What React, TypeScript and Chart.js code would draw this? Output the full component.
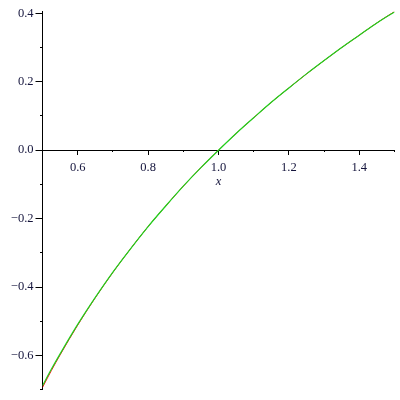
import React, { useEffect, useRef } from "react";
import { Chart, registerables } from "chart.js";

Chart.register(...registerables);

const xs = [0.5, 0.525, 0.55, 0.6, 0.65, 0.7, 0.75, 0.8, 0.85, 0.9, 0.95, 1.0, 1.05, 1.1, 1.15, 1.2, 1.25, 1.3, 1.35, 1.4, 1.45, 1.5];
const redY = [-0.693, -0.644, -0.598, -0.511, -0.431, -0.357, -0.288, -0.223, -0.163, -0.105, -0.051, 0.0, 0.049, 0.095, 0.140, 0.182, 0.223, 0.262, 0.300, 0.336, 0.372, 0.405];
const greenY = [-0.688, -0.640, -0.595, -0.509, -0.430, -0.356, -0.288, -0.223, -0.163, -0.105, -0.051, 0.0, 0.049, 0.095, 0.140, 0.182, 0.223, 0.262, 0.300, 0.336, 0.372, 0.404];

const xMajor = [0.6, 0.8, 1.0, 1.2, 1.4];
const xMajorLabels = ["0.6", "0.8", "1.0", "1.2", "1.4"];
const xMinor = [0.7, 0.9, 1.1, 1.3, 1.5];
const yMajor = [0.4, 0.2, 0.0, -0.2, -0.4, -0.6];
const yMajorLabels = ["0.4", "0.2", "0.0", "\u22120.2", "\u22120.4", "\u22120.6"];
const yMinor = [0.3, 0.1, -0.1, -0.3, -0.5, -0.7];

const X_MIN = 0.5, X_MAX = 1.5, Y_MIN = -0.7, Y_MAX = 0.405;

export default function App() {
  const ref = useRef<HTMLCanvasElement>(null);
  useEffect(() => {
    const font = { family: "'Liberation Serif', 'DejaVu Serif', serif", size: 12.5 };
    const labelColor = "#14143c";
    const axisGrid = (len: number) => ({ drawOnChartArea: false, drawTicks: true, tickLength: len, color: "#000" });
    const chart = new Chart(ref.current!, {
      type: "line",
      data: {
        datasets: [
          {
            data: xs.map((x, i) => ({ x, y: greenY[i] })),
            borderColor: "#1ed21e",
            borderWidth: 1.2,
            pointRadius: 0,
            cubicInterpolationMode: "monotone",
          },
          {
            data: xs.map((x, i) => ({ x, y: redY[i] })),
            borderColor: "#ff0000",
            borderWidth: 1,
            pointRadius: 0,
            cubicInterpolationMode: "monotone",
          },
        ],
      },
      options: {
        animation: false,
        responsive: false,
        layout: { padding: { left: 0, right: 5.5, top: 11.6, bottom: 7.2 } },
        plugins: { legend: { display: false }, tooltip: { enabled: false } },
        scales: {
          x: {
            type: "linear",
            min: X_MIN,
            max: X_MAX,
            position: { y: 0 },
            border: { display: true, color: "#000", width: 1 },
            grid: axisGrid(4),
            afterBuildTicks: (s: any) => { s.ticks = xMajor.map((v) => ({ value: v })); },
            ticks: {
              autoSkip: false,
              maxRotation: 0,
              color: labelColor,
              font,
              padding: 6,
              callback: (_v: any, i: number) => xMajorLabels[i],
            },
            title: { display: true, text: "x", color: labelColor, font: { ...font, style: "italic" }, padding: { top: -7, bottom: 0 } },
          },
          x2: {
            type: "linear",
            axis: "x",
            min: X_MIN,
            max: X_MAX,
            position: { y: 0 },
            border: { display: false },
            grid: axisGrid(2),
            afterBuildTicks: (s: any) => { s.ticks = xMinor.map((v) => ({ value: v })); },
            ticks: { autoSkip: false, maxRotation: 0, callback: () => "" },
          },
          y: {
            type: "linear",
            min: Y_MIN,
            max: Y_MAX,
            position: "left",
            afterFit: (s: any) => { s.width = 42.5; },
            border: { display: true, color: "#000", width: 1 },
            grid: axisGrid(7),
            afterBuildTicks: (s: any) => { s.ticks = yMajor.map((v) => ({ value: v })); },
            ticks: {
              autoSkip: false,
              color: labelColor,
              font,
              padding: 2,
              callback: (_v: any, i: number) => yMajorLabels[i],
            },
          },
          y2: {
            type: "linear",
            axis: "y",
            min: Y_MIN,
            max: Y_MAX,
            position: { x: 0.5 },
            border: { display: false },
            grid: axisGrid(3),
            afterBuildTicks: (s: any) => { s.ticks = yMinor.map((v) => ({ value: v })); },
            ticks: { autoSkip: false, callback: () => "" },
          },
        },
      },
    });
    return () => chart.destroy();
  }, []);
  return (
    <div style={{ position: "absolute", left: 0, top: 0, width: 400, height: 400, background: "#fff" }}>
      <canvas ref={ref} width={400} height={400} />
    </div>
  );
}
